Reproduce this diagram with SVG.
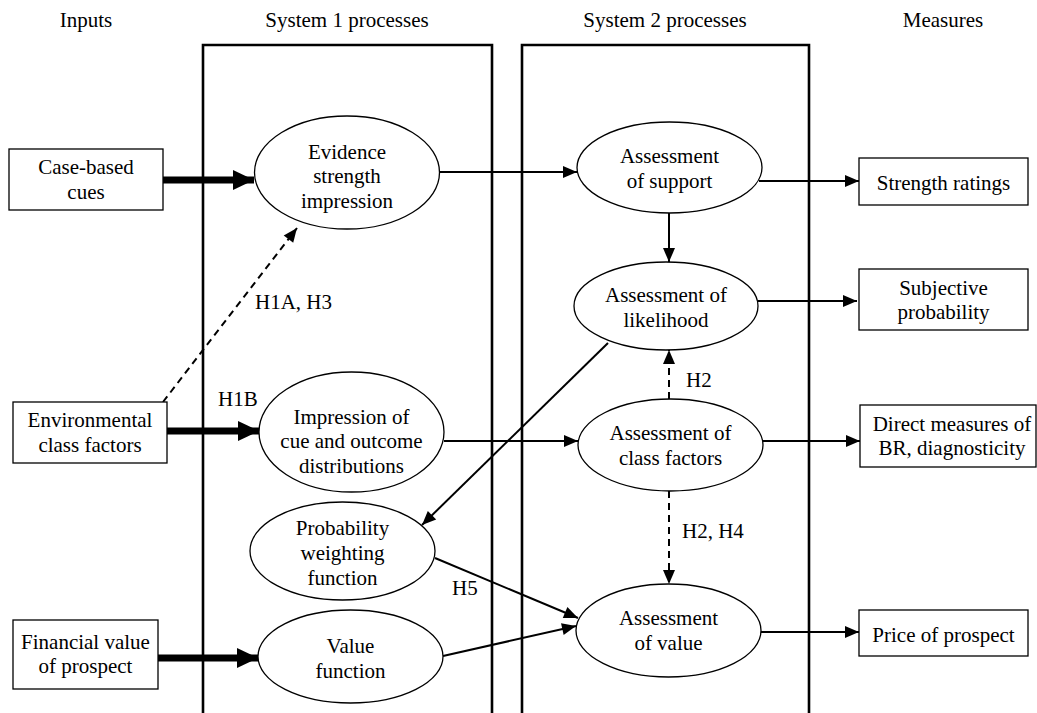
<svg xmlns="http://www.w3.org/2000/svg" width="1037" height="713" viewBox="0 0 1037 713" font-family="'Liberation Serif', 'DejaVu Serif', 'Noto Serif', serif">
<style>
text{font-family:'Liberation Serif','DejaVu Serif','Noto Serif',serif;font-size:21px;fill:#000;text-anchor:middle}
.node{fill:#fff;stroke:#000;stroke-width:1.3}
.frame{fill:none;stroke:#000;stroke-width:2.6}
.thin{fill:none;stroke:#000;stroke-width:2;marker-end:url(#ah)}
.thick{fill:none;stroke:#000;stroke-width:7;marker-end:url(#big)}
.dash{fill:none;stroke:#000;stroke-width:2;stroke-dasharray:7 5;marker-end:url(#ah)}
.lbl{text-anchor:start}
</style>
<defs>
<marker id="ah" markerUnits="userSpaceOnUse" markerWidth="14" markerHeight="12" refX="14" refY="6" orient="auto" overflow="visible"><path d="M0,0 L14,6 L0,12 z" fill="#000"/></marker>
<marker id="big" markerUnits="userSpaceOnUse" markerWidth="21" markerHeight="20" refX="21" refY="10" orient="auto" overflow="visible"><path d="M0,0 L21,10 L0,20 z" fill="#000"/></marker>
</defs>
<rect width="1037" height="713" fill="#fff"/>
<g id="headers">
<text x="86" y="27">Inputs</text>
<text x="347" y="27">System 1 processes</text>
<text x="665" y="27">System 2 processes</text>
<text x="943" y="27">Measures</text>
</g>
<g id="frames">
<path class="frame" d="M203,716 V45 H492 V716"/>
<path class="frame" d="M522,716 V45 H809 V716"/>
</g>
<g id="connectors">
<line class="thick" x1="163" y1="180" x2="254" y2="180"/>
<line class="thick" x1="167" y1="431" x2="259" y2="431"/>
<line class="thick" x1="158" y1="658" x2="258" y2="658"/>
<line class="dash" x1="163" y1="402" x2="297" y2="228"/>
<line class="thin" x1="439" y1="172" x2="577" y2="172"/>
<line class="thin" x1="759" y1="181" x2="859" y2="181"/>
<line class="thin" x1="669" y1="213" x2="669" y2="262"/>
<line class="thin" x1="758" y1="301" x2="857" y2="301"/>
<line class="dash" x1="669" y1="399" x2="669" y2="350"/>
<line class="thin" x1="444" y1="441" x2="578" y2="441"/>
<line class="thin" x1="763" y1="441" x2="860" y2="441"/>
<line class="thin" x1="608" y1="343" x2="422" y2="525"/>
<line class="dash" x1="669" y1="491" x2="669" y2="584"/>
<line class="thin" x1="435" y1="558" x2="578" y2="618"/>
<line class="thin" x1="443" y1="656" x2="576" y2="626"/>
<line class="thin" x1="761" y1="632" x2="859" y2="632"/>
<text class="lbl" x="255" y="309">H1A, H3</text>
<text class="lbl" x="218" y="406">H1B</text>
<text class="lbl" x="686" y="387">H2</text>
<text class="lbl" x="682" y="538">H2, H4</text>
<text class="lbl" x="452" y="595">H5</text>
</g>
<g id="case-based-cues">
<rect class="node" x="9" y="149" width="154" height="61"/>
<text x="86" y="174">Case-based</text>
<text x="86" y="199">cues</text>
</g>
<g id="environmental-class-factors">
<rect class="node" x="13" y="402" width="154" height="61"/>
<text x="90" y="427">Environmental</text>
<text x="90" y="452">class factors</text>
</g>
<g id="financial-value">
<rect class="node" x="13" y="620" width="145" height="69"/>
<text x="85.5" y="649">Financial value</text>
<text x="85.5" y="673">of prospect</text>
</g>
<g id="evidence-strength">
<ellipse class="node" cx="347" cy="172.5" rx="92.5" ry="56.5"/>
<text x="347" y="159">Evidence</text>
<text x="347" y="183">strength</text>
<text x="347" y="208">impression</text>
</g>
<g id="impression-distributions">
<ellipse class="node" cx="351.5" cy="432" rx="92.5" ry="60"/>
<text x="351.5" y="424">Impression of</text>
<text x="351.5" y="448">cue and outcome</text>
<text x="351.5" y="473">distributions</text>
</g>
<g id="probability-weighting">
<ellipse class="node" cx="342.5" cy="551" rx="92.5" ry="49"/>
<text x="342.5" y="535">Probability</text>
<text x="342.5" y="560">weighting</text>
<text x="342.5" y="585">function</text>
</g>
<g id="value-function">
<ellipse class="node" cx="350.5" cy="656.5" rx="92.5" ry="46.5"/>
<text x="350.5" y="653">Value</text>
<text x="350.5" y="678">function</text>
</g>
<g id="assessment-support">
<ellipse class="node" cx="669.5" cy="167.5" rx="92.5" ry="45.5"/>
<text x="669.5" y="163">Assessment</text>
<text x="669.5" y="188">of support</text>
</g>
<g id="assessment-likelihood">
<ellipse class="node" cx="666" cy="306" rx="92" ry="44"/>
<text x="666" y="302">Assessment of</text>
<text x="666" y="327">likelihood</text>
</g>
<g id="assessment-class-factors">
<ellipse class="node" cx="670.5" cy="445" rx="92.5" ry="46"/>
<text x="670.5" y="440">Assessment of</text>
<text x="670.5" y="465">class factors</text>
</g>
<g id="assessment-value">
<ellipse class="node" cx="668.5" cy="630.5" rx="92.5" ry="46.5"/>
<text x="668.5" y="625">Assessment</text>
<text x="668.5" y="650">of value</text>
</g>
<g id="strength-ratings">
<rect class="node" x="859" y="158" width="169" height="47"/>
<text x="943.5" y="190">Strength ratings</text>
</g>
<g id="subjective-probability">
<rect class="node" x="859" y="269" width="169" height="61"/>
<text x="943.5" y="295">Subjective</text>
<text x="943.5" y="319">probability</text>
</g>
<g id="direct-measures">
<rect class="node" x="860" y="405" width="176" height="62"/>
<text x="952" y="431">Direct measures of</text>
<text x="952" y="455">BR, diagnosticity</text>
</g>
<g id="price-of-prospect">
<rect class="node" x="859" y="610" width="169" height="46"/>
<text x="943.5" y="642">Price of prospect</text>
</g>
</svg>
